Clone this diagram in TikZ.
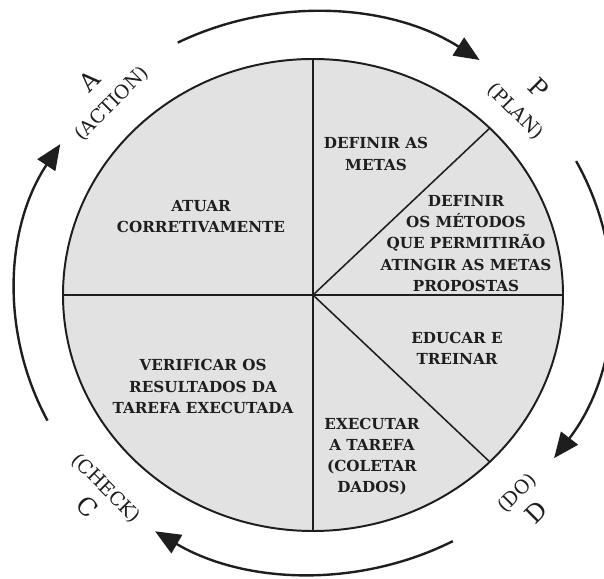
\documentclass[tikz,border=0pt]{standalone}
\usepackage{fontspec}
\setmainfont{DejaVu Serif}
\usepackage{tikz}
\usetikzlibrary{arrows.meta, calc}
\definecolor{mydark}{RGB}{30,30,30}
\definecolor{myfill}{RGB}{226,226,226}
\newcommand{\bigletter}[1]{{\fontsize{17.5}{21}\selectfont #1}}
\tikzset{
  wheel/.style={draw=mydark, fill=myfill, line width=1.4pt},
  divider/.style={draw=mydark, line width=1.1pt},
  cyclearrow/.style={-{Triangle[length=18pt, width=15pt]}, line width=1.7pt, color=mydark},
  task/.style={align=center, text=mydark,
    font=\bfseries\fontsize{10.8}{15}\selectfont},
  phase/.style={align=center, text=mydark, inner sep=0pt,
    font=\fontsize{13.5}{21}\selectfont}
}
\begin{document}
\begin{tikzpicture}[x=0.025cm, y=0.025cm]
  \clip (0,0) rectangle (604,578);
  \coordinate (c) at (313,283);
  \coordinate (o) at (313,285);

  % PDCA wheel
  \path[wheel] (c) ellipse [x radius=250, y radius=236];
  \coordinate (top) at ($(c)+(90:250 and 236)$);
  \coordinate (bot) at ($(c)+(-90:250 and 236)$);
  \coordinate (lft) at ($(c)+(180:250 and 236)$);
  \coordinate (rgt) at ($(c)+(0:250 and 236)$);
  \coordinate (ne) at ($(c)+(45:250 and 236)$);
  \coordinate (se) at ($(c)+(-45:250 and 236)$);
  \draw[divider] (top) -- (bot);
  \draw[divider] (lft) -- (rgt);
  \draw[divider] (c) -- (ne);
  \draw[divider] (c) -- (se);

  % Tasks
  \node[task] (atuar) at (201,361) {ATUAR\\CORRETIVAMENTE};
  \node[task] (metas) at (376,424) {DEFINIR AS\\METAS};
  \node[task] (metodos) at (466,334.5) {DEFINIR\\OS MÉTODOS\\QUE PERMITIRÃO\\ATINGIR AS METAS\\PROPOSTAS};
  \node[task] (educar) at (457,230) {EDUCAR E\\TREINAR};
  \node[task] (executar) at (372,121.5) {EXECUTAR\\A TAREFA\\(COLETAR\\DADOS)};
  \node[task] (verificar) at (203,191.5) {VERIFICAR OS\\RESULTADOS DA\\TAREFA EXECUTADA};

  % Cycle arrows
  \foreach \a/\b in {117/56, 28/-36, -62/-122, 207/148} {
    \draw[cyclearrow] ($(o)+(\a:298 and 281)$)
      arc [start angle=\a, end angle=\b, x radius=298, y radius=281];
  }

  % Phase labels
  \node[phase, rotate=45] (action) at (100.5,486) {\bigletter{A}\\(ACTION)};
  \node[phase, rotate=-45] (plan) at (527,478) {\bigletter{P}\\(PLAN)};
  \node[phase, rotate=-45] (check) at (96.5,80) {(CHECK)\\\bigletter{C}};
  \node[phase, rotate=45] (do) at (527,75) {(DO)\\\bigletter{D}};
\end{tikzpicture}
\end{document}
